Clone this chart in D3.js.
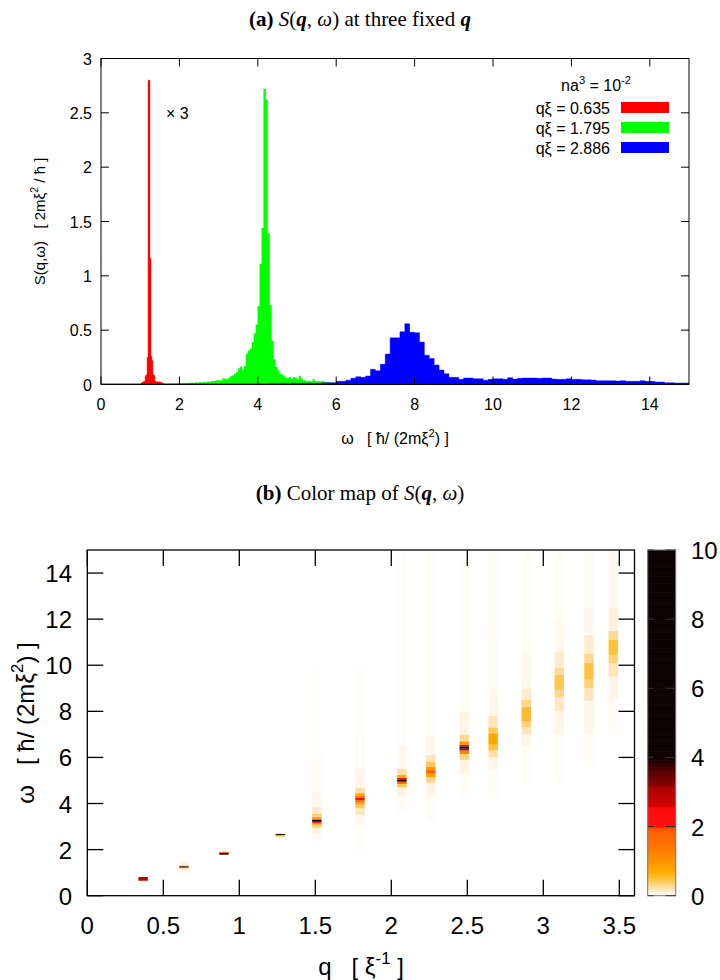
<!DOCTYPE html>
<html>
<head>
<meta charset="utf-8">
<script src="https://cdn.jsdelivr.net/npm/d3@7"></script>
<style>
  body { margin: 0; background: #fff; }
  svg text { font-family: "Liberation Sans", Arial, sans-serif; fill: #000; }
  svg text.serif { font-family: "Liberation Serif", "DejaVu Serif", serif; }
</style>
</head>
<body>
<svg id="fig" width="720" height="980"></svg>
<script>
// ---------- data: panel (a), histograms of S(q,w) ----------
const legendLabels = ['qξ = 0.635', 'qξ = 1.795', 'qξ = 2.886'];

// red (q = 0.635, shown x3): bins of 0.025 starting at 1.025
const redStart = 1.025, redWidth = 0.025;
const redS = [0.015, 0.02, 0.025, 0.03, 0.08, 0.09, 0.25, 2.80, 2.80, 1.16, 0.26, 0.22,
  0.09, 0.085, 0.03, 0.025, 0.025, 0.02, 0.025, 0.02, 0.02, 0.015, 0.01];

// green (q = 1.795): bins of 0.05 starting at 1.50
const greenStart = 1.5, greenWidth = 0.05;
const greenS = [0.004, 0.004, 0.005, 0.004, 0.005, 0.006, 0.005, 0.006, 0.008, 0.007,
  0.010, 0.009, 0.012, 0.010, 0.013, 0.012, 0.015, 0.014, 0.016, 0.015,
  0.018, 0.016, 0.020, 0.018, 0.025, 0.022, 0.030, 0.028, 0.032, 0.040,
  0.038, 0.035, 0.055, 0.050, 0.048, 0.060, 0.077, 0.082, 0.100, 0.112,
  0.147, 0.163, 0.130, 0.170, 0.280, 0.310, 0.330, 0.390, 0.470, 0.550,
  0.720, 1.110, 1.440, 2.720, 2.620, 1.390, 0.730, 0.400, 0.230, 0.160,
  0.130, 0.100, 0.090, 0.075, 0.060, 0.058, 0.066, 0.050, 0.066, 0.060,
  0.045, 0.077, 0.050, 0.040, 0.035, 0.030, 0.032, 0.025, 0.045, 0.030,
  0.028, 0.030, 0.025, 0.030, 0.020, 0.022, 0.018, 0.015, 0.014, 0.010];

// blue (q = 2.886): bins of 0.125 starting at 0
const blueStart = 0, blueWidth = 0.125;
const blueS = [0.006, 0.006, 0.006, 0.006, 0.006, 0.006, 0.006, 0.006, 0.006, 0.006, 0.006, 0.006, 0.006, 0.006, 0.006, 0.006,
  0.007, 0.007, 0.007, 0.007, 0.007, 0.007, 0.007, 0.007, 0.007, 0.007, 0.007, 0.007, 0.007, 0.007, 0.007, 0.007,
  0.008, 0.008, 0.009, 0.009, 0.010, 0.010, 0.010, 0.011, 0.011, 0.012, 0.012, 0.012,
  0.012, 0.015, 0.017, 0.017, 0.030, 0.030, 0.040, 0.057, 0.072, 0.066, 0.078, 0.140,
  0.127, 0.186, 0.280, 0.430, 0.430, 0.486, 0.560, 0.480, 0.477, 0.390, 0.270, 0.240,
  0.180, 0.133, 0.100, 0.066, 0.066, 0.048, 0.060, 0.060, 0.054, 0.054, 0.040, 0.048,
  0.054, 0.054, 0.048, 0.063, 0.050, 0.057, 0.060, 0.060, 0.060, 0.057, 0.060, 0.060,
  0.050, 0.048, 0.048, 0.054, 0.048, 0.048, 0.044, 0.044, 0.041, 0.035, 0.035, 0.035,
  0.035, 0.032, 0.035, 0.029, 0.029, 0.029, 0.035, 0.029, 0.029, 0.023, 0.023, 0.017,
  0.017, 0.014, 0.014, 0.014];

const xTicksA = [0, 2, 4, 6, 8, 10, 12, 14];
const yTicksA = [0, 0.5, 1, 1.5, 2, 2.5, 3];

// ---------- data: panel (b), colour map ----------
const heatQ = [0.367, 0.636, 0.899, 1.27, 1.51, 1.794, 2.07, 2.26, 2.48, 2.67, 2.888, 3.105, 3.30, 3.46];
// each column: [omegaLow, omegaHigh, S]
const heatCells = [
  [[0.65, 0.81, 2.9]],
  [[0.9, 1.1, 0.03], [1.1, 1.19, 0.12], [1.19, 1.23, 1.3], [1.23, 1.28, 5], [1.28, 1.31, 1.2], [1.31, 1.45, 0.1], [1.45, 1.8, 0.03]],
  [[1.85, 1.90, 1.6], [1.78, 1.85, 6]],
  [[2.62, 2.68, 6], [2.56, 2.62, 0.5]],
  [[2.3, 2.7, 0.03], [2.7, 2.95, 0.1], [2.95, 3.08, 0.35], [3.08, 3.16, 0.9], [3.16, 3.21, 2.0], [3.21, 3.3, 6],
   [3.3, 3.35, 1.9], [3.35, 3.43, 0.9], [3.43, 3.55, 0.4], [3.55, 3.85, 0.15], [3.85, 4.5, 0.06], [4.5, 6, 0.035], [6, 10.1, 0.018]],
  [[1.8, 3.0, 0.02], [3.0, 3.5, 0.06], [3.5, 3.8, 0.18], [3.8, 3.95, 0.45], [3.95, 4.05, 0.9], [4.05, 4.15, 1.5],
   [4.15, 4.25, 2.5], [4.25, 4.35, 1.6], [4.35, 4.45, 0.7], [4.45, 4.7, 0.25], [4.7, 5.5, 0.08], [5.5, 7, 0.035], [7, 10, 0.018]],
  [[3.6, 4.3, 0.03], [4.3, 4.7, 0.1], [4.7, 4.85, 0.45], [4.85, 4.95, 1.8], [4.95, 5.05, 5.5], [5.05, 5.12, 2.2],
   [5.12, 5.25, 0.7], [5.25, 5.5, 0.25], [5.5, 6.5, 0.07], [6.5, 15, 0.018]],
  [[3.2, 4.3, 0.03], [4.3, 4.9, 0.09], [4.9, 5.15, 0.32], [5.15, 5.3, 0.8], [5.3, 5.45, 1.8], [5.45, 5.6, 1.0],
   [5.6, 5.8, 0.45], [5.8, 6.1, 0.2], [6.1, 7, 0.07], [7, 15, 0.025]],
  [[4.4, 5.3, 0.03], [5.3, 5.9, 0.1], [5.9, 6.15, 0.35], [6.15, 6.3, 1.2], [6.3, 6.38, 2.6], [6.38, 6.48, 4.0],
   [6.48, 6.56, 2.4], [6.56, 6.7, 1.0], [6.7, 7.0, 0.3], [7.0, 8.0, 0.09], [8.0, 14.6, 0.025]],
  [[4.2, 5.5, 0.03], [5.5, 6.0, 0.09], [6.0, 6.3, 0.25], [6.3, 6.55, 0.5], [6.55, 7.05, 0.75], [7.05, 7.3, 0.45],
   [7.3, 7.8, 0.2], [7.8, 9.0, 0.08], [9.0, 11.2, 0.045], [11.2, 15, 0.03]],
  [[4.8, 6.5, 0.03], [6.5, 7.0, 0.09], [7.0, 7.3, 0.2], [7.3, 7.55, 0.35], [7.55, 8.2, 0.55], [8.2, 8.5, 0.33],
   [8.5, 9.0, 0.16], [9.0, 10.5, 0.06], [10.5, 15, 0.04]],
  [[4.9, 7.0, 0.03], [7.0, 8.0, 0.08], [8.0, 8.6, 0.18], [8.6, 8.9, 0.3], [8.9, 9.6, 0.45], [9.6, 9.9, 0.28],
   [9.9, 10.6, 0.15], [10.6, 12, 0.06], [12, 15, 0.04]],
  [[5.6, 7.0, 0.03], [7.0, 8.4, 0.09], [8.46, 9.0, 0.2], [9.0, 9.4, 0.35], [9.4, 10.1, 0.5], [10.1, 10.5, 0.3],
   [10.5, 11.32, 0.15], [11.38, 12.5, 0.07], [12.5, 15, 0.045]],
  [[7.0, 8.5, 0.03], [8.5, 9.5, 0.09], [9.5, 10.1, 0.2], [10.1, 10.45, 0.35], [10.45, 11.1, 0.52], [11.1, 11.5, 0.3],
   [11.5, 12.5, 0.12], [12.5, 15, 0.05]]
];

const cmapStops = [0, 0.08, 0.2, 0.45, 0.7, 1.3, 1.95, 2.0, 2.55, 2.6, 3.1, 3.2, 3.6, 4.0, 10];
const cmapColors = ['#ffffff', '#fff6ea', '#ffe4bc', '#ffc850', '#ffab00', '#ff7d00', '#ff5800', '#ff1010', '#ff0808',
  '#d00000', '#b00000', '#8c0000', '#560000', '#0e0000', '#0a0000'];

const xTicksB = [0, 0.5, 1, 1.5, 2, 2.5, 3, 3.5];
const yTicksB = [0, 2, 4, 6, 8, 10, 12, 14];
const cbTicks = [0, 2, 4, 6, 8, 10];

// ---------- drawing ----------
const svg = d3.select('#fig');
const fmt = d => String(d);

function sup(sel, txt, size) {
  sel.append('tspan').attr('dy', -0.45 * size).attr('font-size', size * 0.7).text(txt);
  return sel.append('tspan').attr('dy', 0.45 * size).attr('font-size', size);
}

// frame with mirrored inward ticks, gnuplot style
function frame(g, x, y, xt, yt, len, lw) {
  const [x0, x1] = x.range(), [y0, y1] = y.range();
  xt.forEach(t => {
    g.append('line').attr('x1', x(t)).attr('x2', x(t)).attr('y1', y0).attr('y2', y0 - len);
    g.append('line').attr('x1', x(t)).attr('x2', x(t)).attr('y1', y1).attr('y2', y1 + len);
  });
  yt.forEach(t => {
    g.append('line').attr('x1', x0).attr('x2', x0 + len).attr('y1', y(t)).attr('y2', y(t));
    g.append('line').attr('x1', x1).attr('x2', x1 - len).attr('y1', y(t)).attr('y2', y(t));
  });
  g.append('rect').attr('x', x0).attr('y', y1).attr('width', x1 - x0).attr('height', y0 - y1)
    .attr('fill', 'none');
  g.selectAll('line,rect').attr('stroke', '#000').attr('stroke-width', lw);
}

// ---- titles ----
function title(yb, label, rest) {
  const t = svg.append('text').attr('class', 'serif').attr('x', 360).attr('y', yb)
    .attr('text-anchor', 'middle').attr('font-size', 21);
  t.append('tspan').attr('font-weight', 'bold').text(label + ' ');
  rest.forEach(([s, style]) => {
    const ts = t.append('tspan').text(s);
    if (style.includes('i')) ts.attr('font-style', 'italic');
    if (style.includes('b')) ts.attr('font-weight', 'bold');
  });
}
title(26, '(a)', [['S', 'i'], ['(', ''], ['q', 'bi'], [', ', ''], ['ω', 'i'], [')', ''], [' at three fixed ', ''], ['q', 'bi']]);
title(500, '(b)', [['Color map of ', ''], ['S', 'i'], ['(', ''], ['q', 'bi'], [', ', ''], ['ω', 'i'], [')', '']]);

// ---- panel (a) ----
const xA = d3.scaleLinear().domain([0, 15]).range([101, 689]);
const yA = d3.scaleLinear().domain([0, 3]).range([384.5, 58.5]);
const gA = svg.append('g');
svg.append('clipPath').attr('id', 'clipA').append('rect')
  .attr('x', xA(0)).attr('y', yA(3)).attr('width', xA(15) - xA(0)).attr('height', yA(0) - yA(3));

const areaA = d3.area().curve(d3.curveStepAfter)
  .x(d => xA(d[0])).y0(yA(0)).y1(d => yA(d[1]));
const series = [
  [redStart, redWidth, redS, '#ff0000'],
  [greenStart, greenWidth, greenS, '#00ff00'],
  [blueStart, blueWidth, blueS, '#0000ff']
];
series.forEach(([st, w, vals, col]) => {
  const pts = vals.map((v, i) => [st + i * w, v]);
  pts.push([st + vals.length * w, vals[vals.length - 1]]);
  gA.append('path').attr('d', areaA(pts)).attr('fill', col)
    .attr('stroke', col).attr('stroke-width', 0.4).attr('clip-path', 'url(#clipA)');
});

frame(gA.append('g'), xA, yA, xTicksA, yTicksA, 8, 1);

gA.selectAll('.xt').data(xTicksA).join('text').attr('class', 'xt')
  .attr('x', d => xA(d)).attr('y', 410).attr('text-anchor', 'middle').attr('font-size', 16).text(fmt);
gA.selectAll('.yt').data(yTicksA).join('text').attr('class', 'yt')
  .attr('x', 92).attr('y', d => yA(d) + 6).attr('text-anchor', 'end').attr('font-size', 16).text(fmt);

// axis labels
{
  const t = gA.append('text').attr('x', (xA(0) + xA(15)) / 2).attr('y', 444).attr('text-anchor', 'middle')
    .attr('font-size', 16).attr('xml:space', 'preserve');
  t.append('tspan').text('ω   [ ħ/ (2mξ');
  sup(t, '2', 16).text(') ]');
}
{
  const t = gA.append('text').attr('transform', 'translate(45,221.5) rotate(-90)')
    .attr('text-anchor', 'middle').attr('font-size', 15).attr('xml:space', 'preserve');
  t.append('tspan').text('S(q,ω)   [ 2mξ');
  sup(t, '2', 15).text(' / ħ ]');
}

gA.append('text').attr('x', 166).attr('y', 119).attr('font-size', 16).text('× 3');

// legend
{
  const t = gA.append('text').attr('x', 596).attr('y', 91).attr('text-anchor', 'middle').attr('font-size', 16);
  t.append('tspan').text('na');
  sup(t, '3', 16).text(' = 10');
  t.append('tspan').attr('dy', -7).attr('font-size', 11).text('-2');
}
legendLabels.forEach((lab, i) => {
  const yb = 114 + i * 20;
  gA.append('text').attr('x', 610).attr('y', yb).attr('text-anchor', 'end').attr('font-size', 16).text(lab);
  gA.append('rect').attr('x', 621).attr('y', yb - 12).attr('width', 48).attr('height', 11)
    .attr('fill', series[i][3]);
});

// ---- panel (b) ----
const xB = d3.scaleLinear().domain([0, 3.6]).range([87.3, 634.5]);
const yB = d3.scaleLinear().domain([0, 15]).range([895.7, 550]);
const color = d3.scaleLinear().domain(cmapStops).range(cmapColors).clamp(true);
const colHalf = 0.031;
const gB = svg.append('g');

heatQ.forEach((q, i) => {
  gB.append('g').selectAll('rect').data(heatCells[i]).join('rect')
    .attr('x', xB(q - colHalf)).attr('width', xB(q + colHalf) - xB(q - colHalf))
    .attr('y', d => yB(d[1])).attr('height', d => yB(d[0]) - yB(d[1]))
    .attr('fill', d => color(d[2]));
});

frame(gB.append('g'), xB, yB, xTicksB, yTicksB, 16, 1.3);

gB.selectAll('.xt').data(xTicksB).join('text').attr('class', 'xt')
  .attr('x', d => xB(d)).attr('y', 934).attr('text-anchor', 'middle').attr('font-size', 24).text(fmt);
gB.selectAll('.yt').data(yTicksB).join('text').attr('class', 'yt')
  .attr('x', 72).attr('y', d => yB(d) + 9).attr('text-anchor', 'end').attr('font-size', 24).text(fmt);

{
  const t = gB.append('text').attr('x', 361).attr('y', 975).attr('text-anchor', 'middle').attr('font-size', 24)
    .attr('xml:space', 'preserve');
  t.append('tspan').text('q   [ ξ');
  sup(t, '-1', 24).text(' ]');
}
{
  const t = gB.append('text').attr('transform', 'translate(34,723) rotate(-90)')
    .attr('text-anchor', 'middle').attr('font-size', 24).attr('xml:space', 'preserve');
  t.append('tspan').text('ω   [ ħ/ (2mξ');
  sup(t, '2', 24).text(') ]');
}

// colour bar
const yC = d3.scaleLinear().domain([0, 10]).range([895.7, 550]);
const cbX = 647.7, cbW = 28;
const gC = svg.append('g');
const steps = d3.range(0, 10, 0.02);
gC.selectAll('rect.s').data(steps).join('rect').attr('class', 's')
  .attr('x', cbX).attr('width', cbW)
  .attr('y', d => yC(d + 0.02)).attr('height', d => yC(d) - yC(d + 0.02) + 0.6)
  .attr('fill', d => color(d + 0.01));
gC.append('rect').attr('x', cbX).attr('y', 550).attr('width', cbW).attr('height', 345.7)
  .attr('fill', 'none').attr('stroke', '#777').attr('stroke-width', 1);
cbTicks.forEach(t => {
  gC.append('line').attr('x1', cbX).attr('x2', cbX + 6).attr('y1', yC(t)).attr('y2', yC(t))
    .attr('stroke', '#333').attr('stroke-width', 1);
  gC.append('line').attr('x1', cbX + cbW - 10).attr('x2', cbX + cbW).attr('y1', yC(t)).attr('y2', yC(t))
    .attr('stroke', '#333').attr('stroke-width', 1);
});
gC.selectAll('.ct').data(cbTicks).join('text').attr('class', 'ct')
  .attr('x', 691).attr('y', d => yC(d) + 9).attr('font-size', 24).text(fmt);
</script>
</body>
</html>
